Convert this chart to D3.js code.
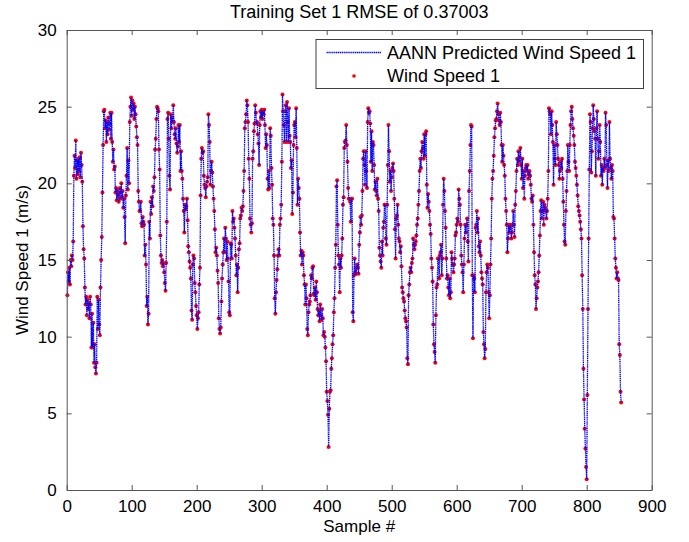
<!DOCTYPE html>
<html>
<head>
<meta charset="utf-8">
<script src="https://cdn.jsdelivr.net/npm/d3@7"></script>
<style>
  html, body { margin: 0; padding: 0; background: #fff; }
  svg { display: block; font-family: "Liberation Sans", Arial, sans-serif; }
</style>
</head>
<body>
<div id="chart"></div>
<script>
const chartTitle = "Training Set 1 RMSE of 0.37003";
const xLabel = "Sample #";
const yLabel = "Wind Speed 1 (m/s)";
const legendNames = ["AANN Predicted Wind Speed 1", "Wind Speed 1"];
const xTicks = [0, 100, 200, 300, 400, 500, 600, 700, 800, 900];
const yTicks = [0, 5, 10, 15, 20, 25, 30];

// wind speed (m/s), one value per sample, starting at sample 1
const speed001to104 = [12.7,14.2,13.6,14.5,13.4,15.0,14.6,15.3,15.0,16.2,
  20.5,21.8,21.0,22.8,20.3,21.5,20.6,21.6,20.8,21.7,
  20.4,22.0,21.2,20.1,17.2,15.7,15.1,13.2,12.1,12.6,
  11.4,12.4,11.8,12.2,11.2,12.6,12.1,9.3,11.5,9.3,
  10.9,8.3,9.5,8.0,7.6,8.3,12.6,10.5,12.4,10.8,
  10.1,13.2,15.0,16.5,19.4,22.5,24.7,24.8,23.6,24.1,
  22.7,24.0,23.2,24.3,23.5,23.9,24.6,22.9,24.6,22.7,
  21.4,22.2,20.9,21.1,19.4,19.7,18.9,19.6,19.2,18.8,
  19.4,19.7,19.0,20.0,19.1,19.5,18.4,19.0,17.8,16.1,
  19.2,20.5,22.3,19.6,21.5,20.0,24.0,25.0,25.6,24.4,
  25.4,24.8,25.2,24.2];
const speed105to228 = [25.0,24.5,23.7,23.0,22.5,19.5,18.8,18.2,18.2,18.8,
  17.4,17.2,17.8,17.5,17.3,15.3,16.0,14.7,12.0,12.6,
  10.8,11.5,17.5,16.4,18.8,18.0,19.1,18.5,19.8,19.5,
  20.4,22.2,22.9,24.2,25.0,24.9,24.7,22.2,20.9,16.6,
  15.3,14.8,15.0,14.6,14.8,14.2,13.5,13.0,14.8,17.5,
  24.2,24.6,22.9,20.5,19.6,24.5,23.6,24.3,24.0,25.1,
  24.0,23.2,22.9,23.6,22.6,22.0,22.4,23.8,22.7,23.8,
  20.8,22.1,20.8,20.3,19.0,18.2,16.8,18.6,18.3,18.5,
  19.0,17.6,15.9,15.5,14.9,14.5,13.8,11.7,11.1,14.7,
  15.3,15.1,13.5,12.9,12.0,11.4,10.5,11.2,11.6,13.4,
  14.5,19.2,21.6,22.3,22.0,22.1,20.5,19.9,19.7,19.1,
  19.8,20.1,20.4,24.5,23.8,22.7,19.9,20.8,21.4,20.7,
  19.8,19.0,18.2,17.0];
const speed229to343 = [15.5,15.8,15.3,14.3,13.5,11.2,10.5,10.2,10.6,12.3,
  13.8,14.7,15.5,16.4,15.5,17.1,16.4,15.0,16.2,15.1,
  13.6,11.6,11.4,16.1,16.0,15.1,18.2,17.5,17.7,17.1,
  16.4,15.3,14.0,14.7,12.9,14.5,15.7,16.1,17.7,17.9,
  18.4,18.2,18.5,19.5,20.8,23.6,24.0,24.5,25.4,25.1,
  24.0,21.6,20.3,17.7,17.3,16.8,17.4,21.6,22.1,23.4,
  23.9,25.1,24.6,23.9,24.0,23.2,22.6,21.2,23.8,24.7,
  24.3,24.8,24.2,24.7,24.5,24.8,23.8,22.3,23.2,22.5,
  20.3,19.6,20.8,19.7,23.6,23.1,21.0,19.9,17.7,17.3,
  15.3,12.5,11.5,12.9,13.7,14.4,15.3,15.7,15.3,17.3,
  17.7,18.6,21.4,25.8,24.7,23.8,22.7,24.7,25.1,22.7,
  25.3,24.0,22.7,24.9,23.1];
const speed344to458 = [22.7,21.0,21.5,18.0,19.4,22.5,23.8,24.0,23.0,24.9,
  22.3,18.6,20.3,19.7,19.0,16.8,15.3,15.6,14.7,15.5,
  15.3,14.0,13.4,12.1,13.4,12.5,10.5,10.1,11.6,12.1,
  12.3,12.7,14.0,13.8,14.5,14.6,12.8,12.7,13.2,12.4,
  13.6,12.9,11.8,11.4,11.7,11.0,12.1,11.4,11.1,11.8,
  11.2,10.1,10.3,10.0,9.3,8.4,6.4,5.8,4.9,2.8,
  5.3,6.4,6.5,7.9,8.6,9.5,10.1,11.6,12.5,14.5,
  16.0,19.8,20.2,17.3,15.3,14.7,12.9,15.1,14.5,15.3,
  16.4,18.6,19.1,22.3,22.7,22.8,23.8,22.5,21.4,19.7,
  19.0,19.0,18.8,17.5,19.0,19.0,11.6,11.0,14.0,15.1,
  14.2,14.1,14.5,14.7,14.5,14.1,16.0,16.8,17.8,17.3,
  17.9,19.5,21.6,22.1,21.2];
const speed459to575 = [19.9,22.1,20.8,19.7,24.0,24.9,24.6,24.7,23.9,21.4,
  23.4,20.8,22.7,22.5,21.2,19.6,20.1,19.5,19.2,20.3,
  19.0,18.2,15.8,15.3,14.9,14.5,16.2,15.3,17.1,17.5,
  18.6,18.6,16.4,16.0,18.6,21.2,23.8,22.1,20.1,20.8,
  19.5,20.4,21.0,21.3,20.8,19.0,17.0,15.1,17.7,17.9,
  18.6,17.3,16.4,16.2,15.5,15.9,14.6,13.2,12.9,12.5,
  12.3,11.7,11.2,11.0,10.6,8.6,8.2,12.7,13.4,14.2,
  14.5,14.2,14.8,15.1,16.4,16.0,15.7,16.0,16.2,16.6,
  17.3,17.7,18.6,19.5,20.8,21.6,21.0,22.1,22.7,22.3,
  21.6,23.2,21.8,23.2,23.4,19.9,18.4,19.3,18.8,18.2,
  17.3,16.7,15.1,14.5,13.6,10.8,9.5,9.0,8.3,11.4,
  13.2,13.4,15.1,15.1,13.8,15.3,15.5];
const speed576to689 = [16.0,14.0,15.1,18.6,20.3,19.5,18.2,17.1,15.1,13.8,
  14.0,13.2,12.7,13.8,12.5,12.9,15.5,15.1,14.7,14.2,
  14.7,15.1,16.6,16.8,17.3,17.7,17.5,19.6,19.0,18.6,
  17.3,15.3,14.7,14.2,12.9,14.7,16.4,17.3,16.8,17.3,
  17.7,16.2,14.9,19.5,20.8,22.5,23.8,23.7,14.0,9.9,
  14.0,13.8,12.9,17.1,17.3,18.2,16.8,17.7,15.9,15.5,
  16.2,15.3,14.2,13.8,13.4,10.3,9.5,8.6,9.2,12.9,
  14.2,14.7,14.5,12.9,11.2,12.7,14.7,16.4,19.0,20.3,
  20.8,21.8,23.0,23.6,24.1,24.2,24.7,25.2,24.5,24.1,
  23.8,24.6,24.0,22.5,21.4,22.5,21.8,21.2,20.5,19.0,
  18.2,17.3,15.5,16.4,17.3,16.8,17.1,17.3,16.4,16.8,
  17.3,18.2,17.3,16.5];
const speed690to798 = [18.6,19.5,20.8,21.6,21.2,22.1,21.4,21.7,22.3,21.2,
  20.3,21.6,19.7,20.8,19.0,20.5,21.0,21.2,20.8,21.2,
  20.3,20.6,20.8,20.5,19.9,19.0,18.8,19.2,17.3,15.5,
  14.0,13.4,11.8,12.5,13.2,13.6,14.2,15.3,16.6,18.2,
  18.9,17.7,18.2,18.8,17.3,18.6,18.4,18.2,17.7,18.2,
  19.0,20.8,24.9,24.7,24.5,23.2,24.7,23.8,22.7,19.9,
  22.5,21.6,21.2,24.0,23.2,22.5,21.6,21.2,20.3,20.8,
  21.4,21.0,21.6,20.3,18.8,17.3,16.2,16.0,18.2,19.5,
  20.8,22.5,21.4,20.8,22.5,23.8,24.7,25.0,24.2,23.6,
  23.1,22.5,21.4,21.0,20.5,19.9,19.2,18.5,18.2,17.9,
  17.5,17.0,16.4,14.0,11.8,7.9,5.9,4.0,2.7];
const speed799to853 = [1.5,0.7,6.2,11.8,16.4,20.9,24.5,24.0,20.7,22.1,
  23.6,25.1,24.2,23.4,22.9,20.5,23.6,24.7,22.9,21.6,
  22.1,23.8,22.7,20.5,21.2,19.9,21.0,20.8,21.6,21.0,
  24.6,23.8,21.2,19.7,21.5,20.8,24.0,21.6,21.0,20.3,
  21.2,20.8,17.8,17.7,16.4,15.1,14.5,13.8,14.2,13.8,
  13.7,9.5,8.8,6.4,5.7];

const windSpeed = [].concat(speed001to104, speed105to228, speed229to343, speed344to458,
  speed459to575, speed576to689, speed690to798, speed799to853);
const points = windSpeed.map((v, i) => ({ sample: i + 1, value: v }));

const width = 689, height = 542;
const plotL = 66.7, plotR = 651.7, plotT = 30, plotB = 490;

const svg = d3.select("#chart").append("svg")
  .attr("width", width)
  .attr("height", height);

const x = d3.scaleLinear().domain([0, 900]).range([plotL, plotR]);
const y = d3.scaleLinear().domain([0, 30]).range([plotB, plotT]);

const axisColor = "#555";
const tickLen = 5;

// measured dots first, predicted line drawn over them
svg.append("g")
  .selectAll("circle")
  .data(points)
  .join("circle")
  .attr("cx", d => x(d.sample))
  .attr("cy", d => y(d.value))
  .attr("r", 2)
  .attr("fill", "#ff0000");

const line = d3.line().x(d => x(d.sample)).y(d => y(d.value));
svg.append("path")
  .datum(points)
  .attr("d", line)
  .attr("fill", "none")
  .attr("stroke", "#0000ff")
  .attr("stroke-width", 1.3)
  .attr("stroke-dasharray", "1.3,0.6");

// axes (matlab-style box with inward ticks)
const xAxisB = d3.axisBottom(x).tickValues(xTicks).tickSizeInner(-tickLen).tickSizeOuter(0).tickPadding(10);
const xAxisT = d3.axisTop(x).tickValues(xTicks).tickSizeInner(-tickLen).tickSizeOuter(0).tickFormat("");
const yAxisL = d3.axisLeft(y).tickValues(yTicks).tickSizeInner(-tickLen).tickSizeOuter(0).tickPadding(10);
const yAxisR = d3.axisRight(y).tickValues(yTicks).tickSizeInner(-tickLen).tickSizeOuter(0).tickFormat("");

function styleAxis(g) {
  g.selectAll("path, line").attr("stroke", axisColor);
  g.selectAll("text").attr("fill", "#000").style("font-size", "17px")
    .style("font-family", '"Liberation Sans", Arial, sans-serif');
}

svg.append("g").attr("transform", `translate(0,${plotB})`).call(xAxisB).call(styleAxis);
svg.append("g").attr("transform", `translate(0,${plotT})`).call(xAxisT).call(styleAxis);
svg.append("g").attr("transform", `translate(${plotL},0)`).call(yAxisL).call(styleAxis);
svg.append("g").attr("transform", `translate(${plotR},0)`).call(yAxisR).call(styleAxis);

// title and labels
svg.append("text")
  .attr("x", (plotL + plotR) / 2).attr("y", 18)
  .attr("text-anchor", "middle")
  .style("font-size", "18px")
  .text(chartTitle);

svg.append("text")
  .attr("x", (plotL + plotR) / 2).attr("y", 532)
  .attr("text-anchor", "middle")
  .style("font-size", "17px")
  .text(xLabel);

svg.append("text")
  .attr("transform", `translate(28,${(plotT + plotB) / 2}) rotate(-90)`)
  .attr("text-anchor", "middle")
  .style("font-size", "17px")
  .text(yLabel);

// legend
const lg = svg.append("g");
lg.append("rect")
  .attr("x", 316).attr("y", 39.5)
  .attr("width", 327.5).attr("height", 49)
  .attr("fill", "#fff")
  .attr("stroke", "#404040");
lg.append("line")
  .attr("x1", 326.5).attr("x2", 381.5)
  .attr("y1", 52.5).attr("y2", 52.5)
  .attr("stroke", "#0000ff")
  .attr("stroke-width", 1.3)
  .attr("stroke-dasharray", "1.3,0.6");
lg.append("circle")
  .attr("cx", 354).attr("cy", 76).attr("r", 1.8)
  .attr("fill", "#ff0000");
lg.selectAll("text.item")
  .data(legendNames)
  .join("text")
  .attr("class", "item")
  .attr("x", 387)
  .attr("y", (d, i) => 53 + i * 22.5)
  .attr("dy", "0.35em")
  .style("font-size", "18px")
  .text(d => d);
</script>
</body>
</html>
